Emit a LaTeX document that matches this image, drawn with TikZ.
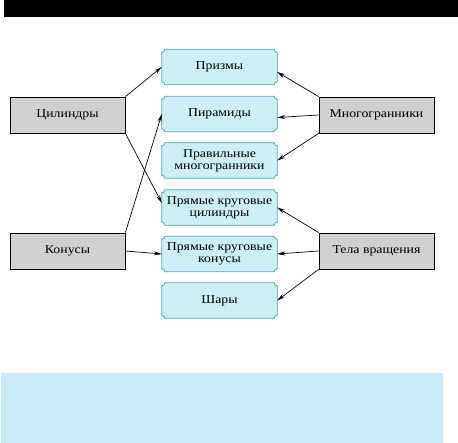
\documentclass[tikz,border=0pt]{standalone}
\usepackage{fontspec}
\setmainfont{Liberation Serif}[FakeStretch=1.15]
\usetikzlibrary{arrows.meta,calc}
\definecolor{midfill}{HTML}{CCEEF5}
\definecolor{midline}{HTML}{4BA6B6}
\definecolor{panel}{HTML}{C9EAF2}
\definecolor{graybox}{HTML}{D0D0D0}
\newcommand\cornerbox[4]{%
  \path node[boxframe] (#1) at (#2,#3) {};
  \filldraw[midborder]
    ([xshift=3pt]#1.north west) -- ([xshift=-3pt]#1.north east)
    arc[start angle=180,end angle=270,radius=3pt]
    -- ([yshift=3pt]#1.south east)
    arc[start angle=90,end angle=180,radius=3pt]
    -- ([xshift=3pt]#1.south west)
    arc[start angle=0,end angle=90,radius=3pt]
    -- ([yshift=-3pt]#1.north west)
    arc[start angle=270,end angle=360,radius=3pt] -- cycle;
  \node[midtext] (#1T) at (#1.center) {#4};
}
\begin{document}
\begin{tikzpicture}[x=1pt,y=1pt,
  boxframe/.style={minimum width=115pt,minimum height=35pt,inner sep=0pt},
  midborder/.style={fill=midfill,draw=midline,line width=0.8pt},
  midtext/.style={align=center,font=\fontsize{12}{12}\selectfont,inner sep=0pt},
  sidebox/.style={draw=black,fill=graybox,line width=0.8pt,minimum width=115pt,minimum height=36pt,inner sep=0pt,font=\fontsize{12}{12}\selectfont},
  arr/.style={-{Stealth[length=8pt,width=4pt]},line width=0.7pt}]
\useasboundingbox (0,0) rectangle (458,443);
\fill[black] (4,426) rectangle (458,443);
\fill[panel] (1,0) rectangle (443,70);
\cornerbox{pr}{219.5}{376}{Призмы}
\cornerbox{pi}{219.5}{329}{Пирамиды}
\cornerbox{pm}{219.5}{282.5}{Правильные\\многогранники}
\cornerbox{pc}{219.5}{235.5}{Прямые круговые\\цилиндры}
\cornerbox{pk}{219.5}{189}{Прямые круговые\\конусы}
\cornerbox{sh}{219.5}{142.5}{Шары}
\node[sidebox] (cyl) at (67.5,328) {Цилиндры};
\node[sidebox] (kon) at (67.5,192) {Конусы};
\node[sidebox] (mng) at (376.5,328) {Многогранники};
\node[sidebox] (tel) at (376.5,192) {Тела вращения};
\draw[arr] (cyl.north east) -- (pr.west);
\draw[arr] (cyl.south east) -- ([yshift=4.5pt]pc.west);
\draw[arr] (kon.north east) -- (pi.west);
\draw[arr] (kon.east) -- (pk.west);
\draw[arr] (mng.north west) -- ([yshift=-5pt]pr.east);
\draw[arr] (mng.west) -- ([yshift=-3.5pt]pi.east);
\draw[arr] (mng.south west) -- (pm.east);
\draw[arr] (tel.north west) -- (pc.east);
\draw[arr] (tel.west) -- (pk.east);
\draw[arr] (tel.south west) -- (sh.east);
\end{tikzpicture}
\end{document}
